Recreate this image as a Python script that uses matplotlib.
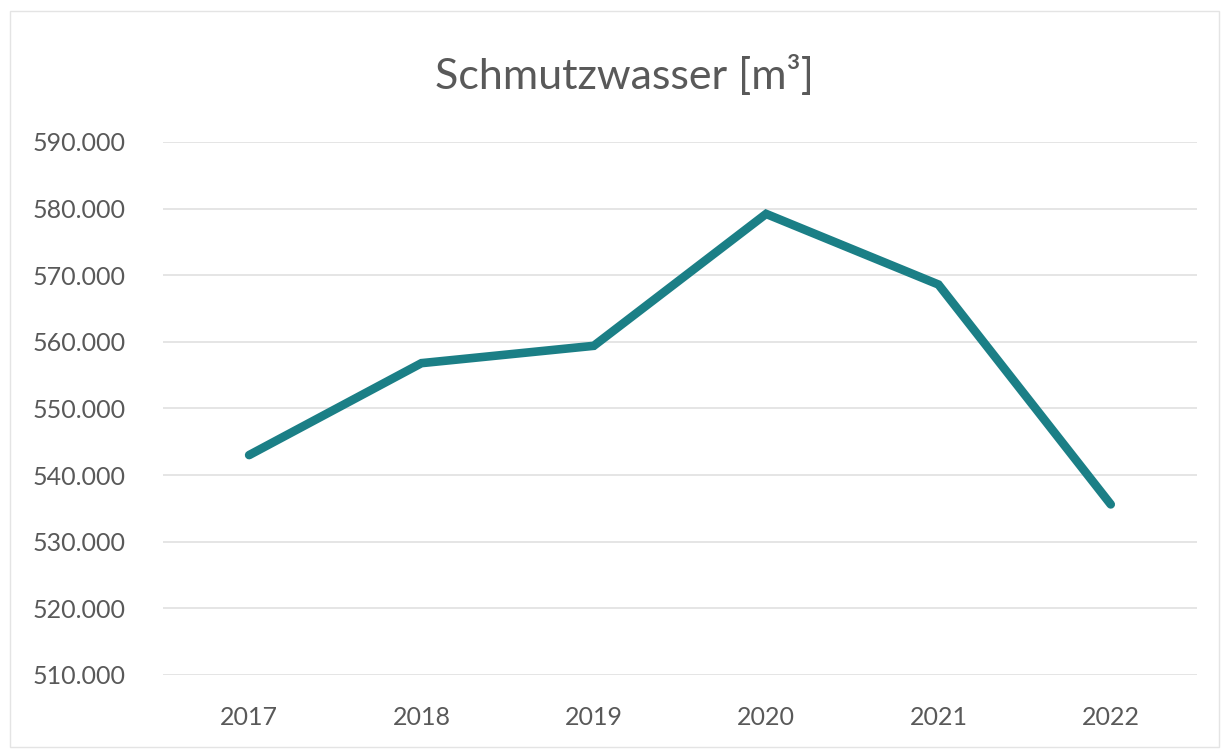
import matplotlib.pyplot as plt
from matplotlib.ticker import FuncFormatter, MultipleLocator
from matplotlib.patches import Rectangle

years = ["2017", "2018", "2019", "2020", "2021", "2022"]
wastewater = [543000, 556800, 559400, 579200, 568600, 535600]

line_color = "#1b7f86"
text_color = "#595959"

plt.rcParams['font.family'] = ['Lato', 'DejaVu Sans']

fig = plt.figure(figsize=(12.29, 7.55), dpi=100)
ax = fig.add_axes([0.1326, 0.106, 0.8413, 0.706])

x = range(len(years))
ax.plot(x, wastewater, color=line_color, lw=6.2, solid_capstyle='round', solid_joinstyle='miter')

ax.set_xlim(-0.5, len(years) - 0.5)
ax.set_ylim(510000, 590000)
ax.yaxis.set_major_locator(MultipleLocator(10000))
ax.yaxis.set_major_formatter(FuncFormatter(lambda v, p: "{:,.0f}".format(v).replace(",", ".")))
ax.set_xticks(list(x))
ax.set_xticklabels(years)

ax.grid(axis='y', color="#e0e0e0", lw=1.2)
ax.set_axisbelow(True)
for s in ax.spines.values():
    s.set_visible(False)
ax.tick_params(length=0, labelsize=18, colors=text_color)
ax.tick_params(axis='y', pad=27)
ax.tick_params(axis='x', pad=22)

fig.text(0.508, 0.9, "Schmutzwasser [m³]", ha='center', va='center', fontsize=31, color=text_color)

# light chart border
fig.patches.append(Rectangle((0.008, 0.01), 0.984, 0.975, transform=fig.transFigure,
                             fill=False, edgecolor="#e4e4e4", lw=1))

fig.savefig("out.png", dpi=100)
